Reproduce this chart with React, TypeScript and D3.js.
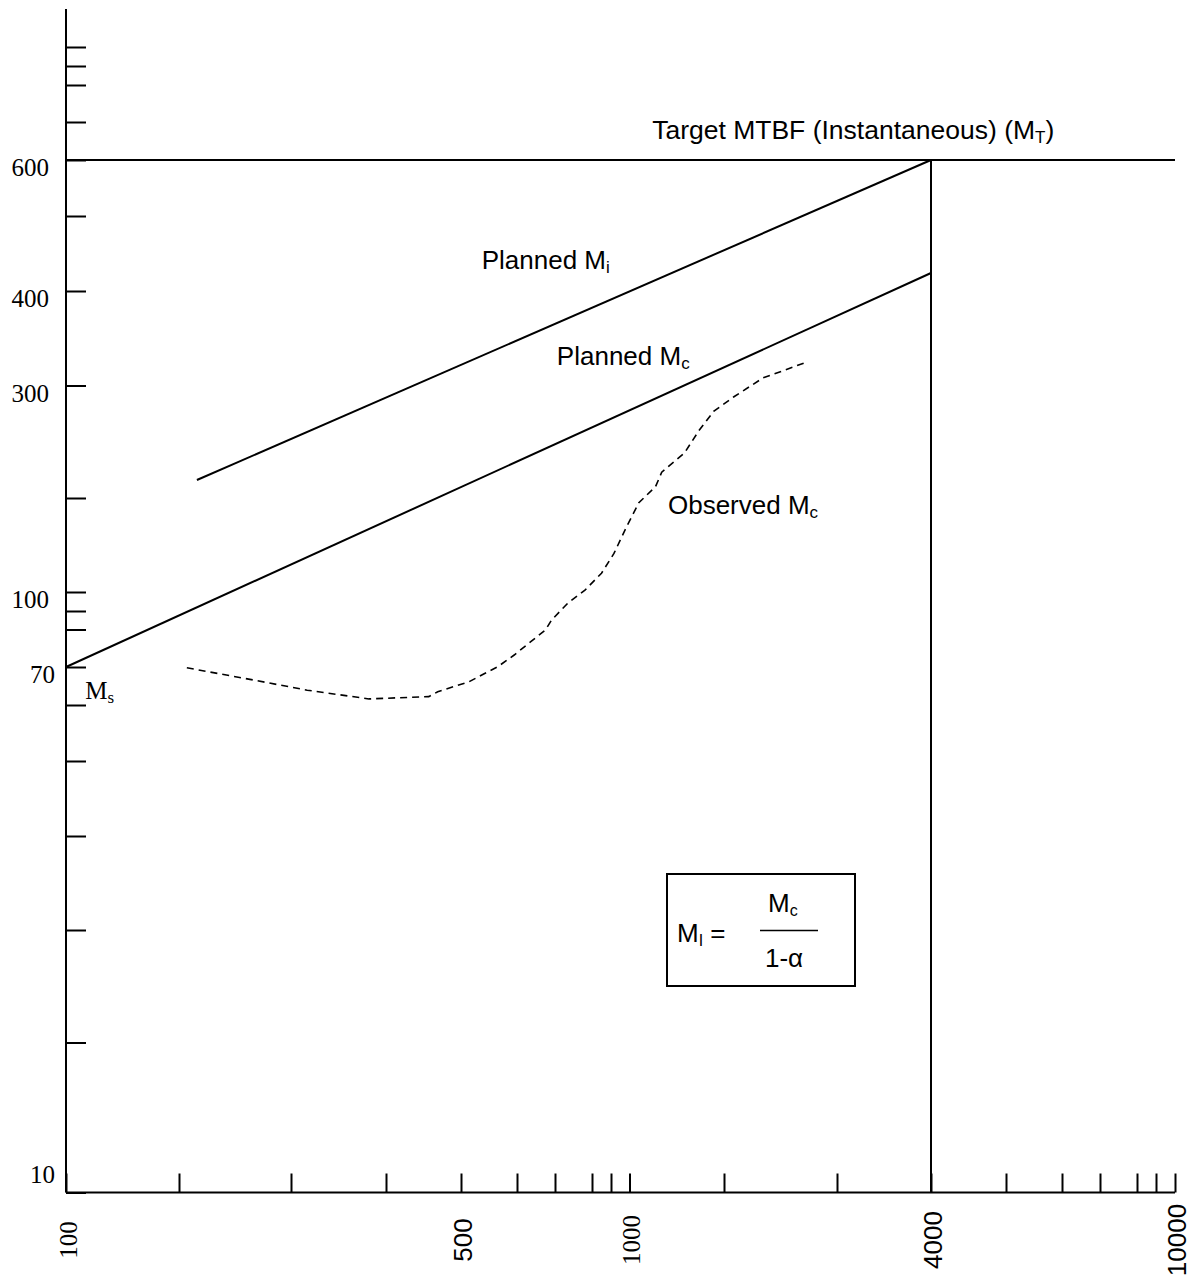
import React, { useRef, useEffect } from 'react';
import * as d3 from 'd3';

// cumulative test time (hours) printed grid on the x axis
const timeTicks = [100, 200, 300, 400, 500, 600, 700, 800, 900, 1000, 2000, 3000, 4000, 5000, 6000, 7000, 8000, 9000, 10000];
const timeLabels = [100, 500, 1000, 4000, 10000];
// MTBF grid on the y axis
const mtbfTicks = [10, 20, 30, 40, 50, 60, 70, 80, 90, 100, 200, 300, 400, 500, 600, 700, 800, 900, 1000];
const mtbfLabels = [10, 70, 100, 300, 400, 600];

// the paper is a hand drawn log grid, so spacing between grid lines is not exact log
const timeGaps = [113, 112, 95, 75, 56, 38, 37, 19, 18.5, 94.5, 113, 94, 75, 56, 38, 37, 19, 19];
const mtbfGaps = [150, 112.5, 94, 75, 56, 38, 37.5, 18.5, 19, 94, 112.5, 94.5, 75, 56, 38, 37, 19, 19];

const targetMtbf = 600;
const targetTime = 4000;

const plannedMiTime = [216, 4000];
const plannedMiValue = [216, 600];
const plannedMcTime = [100, 4000];
const plannedMcValue = [70, 424];

const observedTime = [207, 266, 317, 382, 457, 469, 514, 566, 595, 675, 691, 735, 781, 850, 916, 983, 1099, 1275, 1341, 1582, 1735, 1890, 2088, 2345, 2531, 2735];
const observedMc = [69.8, 66.6, 63.9, 61.6, 62.2, 63.5, 66.1, 70.1, 73.2, 79.9, 85.1, 94.2, 102, 120, 141, 169, 195, 210, 223, 240, 260, 277, 290, 308, 316, 325];

const SANS = '"Liberation Sans", Arial, sans-serif';
const SERIF = '"Liberation Serif", "Times New Roman", serif';

const App = () => {
    const svgRef = useRef<SVGSVGElement>(null);

    useEffect(() => {
        const svgWidth = 1194;
        const svgHeight = 1278;
        const margin = { top: 9, left: 66, bottom: 1192.5 };

        const svg = d3.select(svgRef.current)
            .attr("width", svgWidth)
            .attr("height", svgHeight);
        svg.selectAll("*").remove();

        const xRange = Array.from(d3.cumsum([0, ...timeGaps])).map((d) => margin.left + d);
        const yRange = Array.from(d3.cumsum([0, ...mtbfGaps])).map((d) => margin.bottom - d);

        const xScale = d3.scaleLinear().domain(timeTicks).range(xRange);
        const yScale = d3.scaleLinear().domain(mtbfTicks).range(yRange);

        const xEnd = xScale(10000);

        // axes lines
        svg.append("line")
            .attr("x1", margin.left).attr("x2", margin.left)
            .attr("y1", margin.top).attr("y2", margin.bottom)
            .attr("stroke", "#000").attr("stroke-width", 2);
        svg.append("line")
            .attr("x1", margin.left).attr("x2", xEnd)
            .attr("y1", margin.bottom).attr("y2", margin.bottom)
            .attr("stroke", "#000").attr("stroke-width", 2);

        // ticks point inward
        svg.append("g")
            .attr("transform", `translate(${margin.left},0)`)
            .call(d3.axisLeft(yScale).tickValues(mtbfTicks).tickSize(-20).tickFormat(() => ""))
            .call((g) => g.select(".domain").remove())
            .selectAll("line").attr("stroke", "#000").attr("stroke-width", 2);

        svg.append("g")
            .attr("transform", `translate(0,${margin.bottom})`)
            .call(d3.axisBottom(xScale).tickValues(timeTicks).tickSize(-19).tickFormat(() => ""))
            .call((g) => g.select(".domain").remove())
            .selectAll("line").attr("stroke", "#000").attr("stroke-width", 2);

        // y labels
        svg.append("g")
            .selectAll("text")
            .data(mtbfLabels)
            .enter()
            .append("text")
            .attr("x", (d) => (String(d).length > 2 ? 49 : 55))
            .attr("y", (d) => Math.min(yScale(d) + 16, margin.bottom - 9.5))
            .attr("text-anchor", "end")
            .attr("font-family", SERIF)
            .attr("font-size", 25)
            .text((d) => d);

        // x labels, rotated
        const serifLabels = new Set([100, 1000]);
        svg.append("g")
            .selectAll("text")
            .data(timeLabels)
            .enter()
            .append("text")
            .attr("transform", (d) => `translate(${xScale(d) + 2},1240) rotate(-90)`)
            .attr("dy", "0.35em")
            .attr("text-anchor", "middle")
            .attr("font-family", (d) => (serifLabels.has(d) ? SERIF : SANS))
            .attr("font-size", (d) => (serifLabels.has(d) ? 25 : 26))
            .text((d) => d);

        const line = d3.line<[number, number]>()
            .x((d) => xScale(d[0]))
            .y((d) => yScale(d[1]));

        // target MTBF and end of test
        svg.append("path")
            .datum([[100, targetMtbf], [10000, targetMtbf]] as [number, number][])
            .attr("fill", "none").attr("stroke", "#000").attr("stroke-width", 2)
            .attr("d", line);
        svg.append("path")
            .datum([[targetTime, 10], [targetTime, targetMtbf]] as [number, number][])
            .attr("fill", "none").attr("stroke", "#000").attr("stroke-width", 2)
            .attr("d", line);

        svg.append("path")
            .datum(d3.zip(plannedMiTime, plannedMiValue) as [number, number][])
            .attr("fill", "none").attr("stroke", "#000").attr("stroke-width", 2)
            .attr("d", line);
        svg.append("path")
            .datum(d3.zip(plannedMcTime, plannedMcValue) as [number, number][])
            .attr("fill", "none").attr("stroke", "#000").attr("stroke-width", 2)
            .attr("d", line);

        svg.append("path")
            .datum(d3.zip(observedTime, observedMc) as [number, number][])
            .attr("fill", "none").attr("stroke", "#000").attr("stroke-width", 1.6)
            .attr("stroke-dasharray", "7,5")
            .attr("d", line);

        const label = (x: number, y: number, main: string, sub: string, tail: string,
            font: string, size: number, subSize: number) => {
            const t = svg.append("text")
                .attr("x", x).attr("y", y)
                .attr("font-family", font)
                .attr("font-size", size);
            t.append("tspan").text(main);
            t.append("tspan").attr("font-size", subSize).attr("dy", 4).text(sub);
            if (tail) t.append("tspan").attr("dy", -4).text(tail);
            return t;
        };

        label(xScale(1240), yScale(654), "Target MTBF (Instantaneous) (M", "T", ")", SANS, 26.5, 17);
        label(xScale(537), yScale(429), "Planned M", "i", "", SANS, 26, 17);
        label(xScale(705), yScale(322), "Planned M", "c", "", SANS, 26, 17);
        label(xScale(1407), yScale(183), "Observed M", "c", "", SANS, 26, 17);
        label(xScale(117), yScale(61.5), "M", "s", "", SERIF, 25, 17);

        // formula inset
        const box = svg.append("g");
        box.append("rect")
            .attr("x", 667).attr("y", 874).attr("width", 188).attr("height", 112)
            .attr("fill", "none").attr("stroke", "#000").attr("stroke-width", 2);
        const bl = (x: number, y: number, main: string, sub: string, tail: string) => {
            const t = box.append("text").attr("x", x).attr("y", y)
                .attr("font-family", SANS).attr("font-size", 26);
            t.append("tspan").text(main);
            if (sub) t.append("tspan").attr("font-size", 16).attr("dy", 4).text(sub);
            if (tail) t.append("tspan").attr("dy", -4).text(tail);
        };
        bl(677, 942, "M", "I", " =");
        bl(768, 912, "M", "c", "");
        box.append("line")
            .attr("x1", 760).attr("x2", 818).attr("y1", 930.5).attr("y2", 930.5)
            .attr("stroke", "#000").attr("stroke-width", 1.5);
        bl(765, 967, "1-\u03b1", "", "");

    }, []);

    return (
        <div>
            <svg ref={svgRef} style={{ position: "absolute", left: 0, top: 0, background: "#fff" }} />
        </div>
    );
};

export default App;
